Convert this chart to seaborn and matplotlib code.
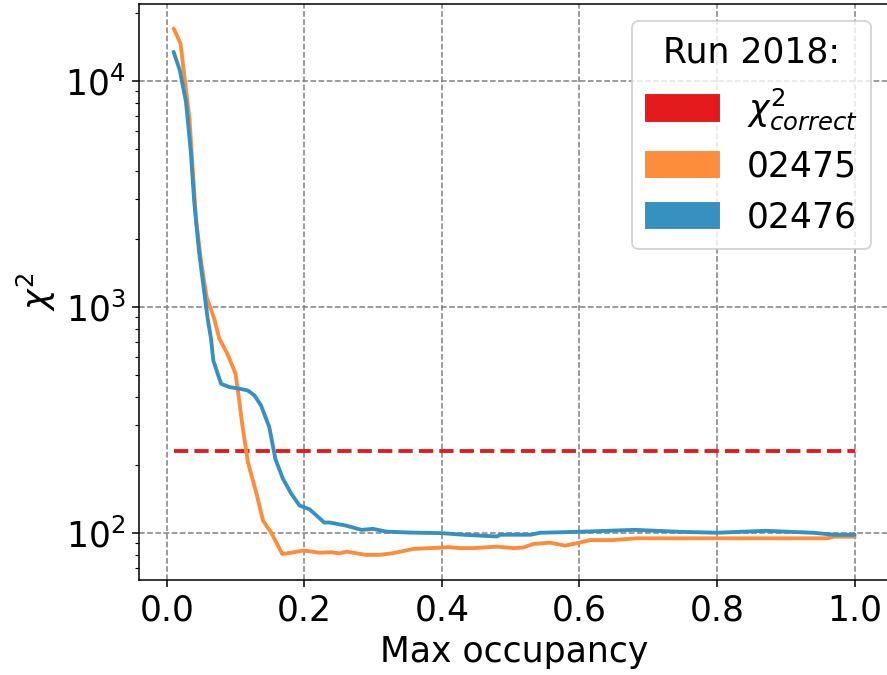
import numpy as np
import pandas as pd
import matplotlib
matplotlib.use("Agg")
import matplotlib.pyplot as plt
from matplotlib.patches import Patch
import seaborn as sns

# ---- data ----
x_02475 = [0.01, 0.02, 0.033, 0.0425, 0.05, 0.058, 0.069, 0.0765, 0.088, 0.1, 0.105, 0.11,
           0.118, 0.13, 0.14, 0.152, 0.168, 0.18, 0.198, 0.205, 0.222, 0.24, 0.251, 0.261,
           0.29, 0.309, 0.329, 0.358, 0.40, 0.41, 0.426, 0.445, 0.48, 0.504, 0.518, 0.533,
           0.557, 0.579, 0.60, 0.615, 0.649, 0.683, 0.75, 0.80, 0.96, 0.97, 1.0]
y_02475 = [17000, 14600, 6800, 2450, 1580, 1100, 885, 721, 620, 506, 392, 298,
           205, 151, 113, 100, 80.5, 81.5, 83.4, 83, 81.6, 82, 81, 82.5,
           79.8, 79.8, 81.2, 84.8, 86, 86.4, 85.5, 85.5, 86.8, 85.5, 86, 89.2,
           90.4, 87.7, 90.4, 92.8, 92.8, 94.5, 94.5, 94.5, 94.5, 96.1, 96.1]

x_02476 = [0.01, 0.019, 0.028, 0.035, 0.040, 0.047, 0.057, 0.0595, 0.0644, 0.0677, 0.079,
           0.091, 0.1056, 0.1178, 0.1275, 0.137, 0.149, 0.158, 0.169, 0.181, 0.193, 0.2076,
           0.229, 0.237, 0.261, 0.283, 0.30, 0.319, 0.353, 0.40, 0.431, 0.48, 0.485, 0.529,
           0.543, 0.60, 0.68, 0.745, 0.80, 0.87, 0.94, 0.97, 1.0]
y_02476 = [13400, 11100, 8050, 4840, 2900, 1745, 1014, 885, 721, 578, 456,
           441, 434, 426, 405, 366, 294, 212, 173, 149, 132, 127,
           111, 111, 107.5, 103, 104, 101.2, 100.2, 99.6, 98, 96.3, 98, 98,
           100, 101, 103, 101, 100, 102, 100, 98, 98]

chi2_x = [0.01, 1.0]
chi2_y = [231, 231]

runs = ["02475", "02476"]
colors = {"chi2": "#e41a1c", "02475": "#fd8d3c", "02476": "#3690c0"}
legend_title = "Run 2018:"
chi2_label = r"$\chi^2_{correct}$"

df = pd.concat([
    pd.DataFrame({"x": x_02475, "y": y_02475, "run": "02475"}),
    pd.DataFrame({"x": x_02476, "y": y_02476, "run": "02476"}),
], ignore_index=True)
df_chi = pd.DataFrame({"x": chi2_x, "y": chi2_y})

# ---- plot ----
sns.set_style("ticks")
FS = 18
plt.rcParams.update({
    "font.family": ["DejaVu Sans"],
    "font.size": FS,
    "mathtext.fontset": "dejavusans",
    "text.color": "black",
    "axes.labelcolor": "black",
    "xtick.color": "black",
    "ytick.color": "black",
    "axes.edgecolor": "black",
})

dpi = 138.6
fig = plt.figure(figsize=(887 / dpi, 675 / dpi), dpi=dpi)
W, H = 887.0, 675.0
ax = fig.add_axes([139.3 / W, 1 - 580 / H, (888.6 - 139.3) / W, (580 - 4) / H])

sns.lineplot(data=df_chi, x="x", y="y", ax=ax, color=colors["chi2"], lw=2,
             linestyle="--", zorder=3)
sns.lineplot(data=df, x="x", y="y", hue="run", palette=colors, hue_order=runs,
             ax=ax, lw=2, sort=False, legend=False, estimator=None, zorder=4)

ax.set_yscale("log")
ax.set_xlim(-0.0399, 1.0495)
ax.set_ylim(10 ** 1.791, 10 ** 4.339)
ax.set_xticks([0.0, 0.2, 0.4, 0.6, 0.8, 1.0])
ax.set_xticklabels(["0.0", "0.2", "0.4", "0.6", "0.8", "1.0"])
ax.tick_params(axis="both", which="major", labelsize=FS, length=3.5, width=0.8,
               colors="black")
ax.tick_params(axis="y", which="minor", length=2, width=0.6, colors="black")

ax.grid(True, which="major", linestyle="--", color="#808080", lw=0.8)
ax.set_axisbelow(True)

ax.set_xlabel("Max occupancy", fontsize=FS, color="black")
ax.set_ylabel(r"$\chi^2$", fontsize=FS, color="black")

for s in ax.spines.values():
    s.set_linewidth(0.8)
    s.set_color("black")

handles = [Patch(facecolor=colors["chi2"], edgecolor=colors["chi2"], label=chi2_label),
           Patch(facecolor=colors["02475"], edgecolor=colors["02475"], label="02475"),
           Patch(facecolor=colors["02476"], edgecolor=colors["02476"], label="02476")]
leg = ax.legend(handles=handles, title=legend_title, loc="upper right",
                fontsize=FS, title_fontsize=FS, handlelength=2.1, handleheight=0.75,
                frameon=True, fancybox=True, framealpha=0.8)
leg.get_frame().set_edgecolor("#cccccc")
for t in leg.get_texts():
    t.set_color("black")
leg.get_title().set_color("black")

fig.savefig("out.png", dpi=dpi)
